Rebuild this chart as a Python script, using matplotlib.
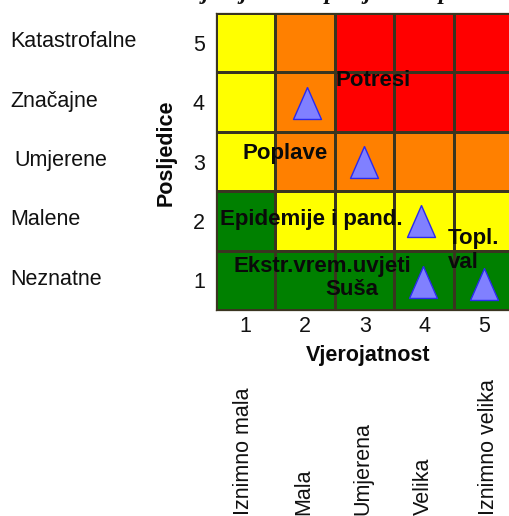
import numpy as np
import matplotlib.pyplot as plt
from matplotlib.colors import ListedColormap
import matplotlib.transforms as mtransforms

plt.rcParams['font.family'] = ['Liberation Sans', 'DejaVu Sans']

# --- data ---
likelihood = [1, 2, 3, 4, 5]
consequence = [1, 2, 3, 4, 5]
likelihood_names = ['Iznimno mala', 'Mala', 'Umjerena', 'Velika', 'Iznimno velika']
consequence_names = ['Neznatne', 'Malene', 'Umjerene', 'Značajne', 'Katastrofalne']

# risk zone per cell, rows = consequence 1..5, cols = likelihood 1..5
# 0 green, 1 yellow, 2 orange, 3 red
zone_c1 = [0, 0, 0, 0, 0]
zone_c2 = [0, 1, 1, 1, 1]
zone_c3 = [1, 2, 2, 2, 2]
zone_c4 = [1, 2, 3, 3, 3]
zone_c5 = [1, 2, 3, 3, 3]
zone_colors = ['#008000', '#FFFF00', '#FF8000', '#FF0000']

# hazard markers (likelihood, consequence)
hazard_x = [2.03, 2.99, 3.95, 3.98, 5.0]
hazard_y = [3.98, 2.99, 2.0, 0.97, 0.94]

# hazard labels
hazard_labels = ['Potresi', 'Poplave', 'Epidemije i pand.', 'Ekstr.vrem.uvjeti', 'Suša', 'Topl.\nval']
label_x = [3.14, 1.66, 2.11, 2.28, 2.79, 4.40]
label_y = [4.37, 3.14, 2.03, 1.24, 0.84, 1.50]
label_ha = ['center', 'center', 'center', 'center', 'center', 'left']

W, H = 510, 516
fig = plt.figure(figsize=(W / 100, H / 100), dpi=100)


def fx(px):
    return px / W


def fy(py):
    return 1 - py / H


ax = fig.add_axes([fx(216), fy(310), 297.5 / W, 297 / H])

Z = np.array([zone_c1, zone_c2, zone_c3, zone_c4, zone_c5])
edges = np.arange(0.5, 6.0, 1.0)
ax.pcolormesh(edges, edges, Z, cmap=ListedColormap(zone_colors), vmin=-0.5, vmax=3.5,
              edgecolors='#3a3520', linewidth=0.9)
ax.set_xlim(0.5, 5.5)
ax.set_ylim(0.5, 5.5)
ax.set_xticks(likelihood)
ax.set_yticks(consequence)
ax.tick_params(length=0, labelsize=15.5, colors='#111111')
ax.tick_params(axis='x', pad=4)
ax.tick_params(axis='y', pad=8)
for s in ax.spines.values():
    s.set_color('#3a3520')
    s.set_linewidth(0.9)

# slightly narrow triangle, like the original markers
tri = [(0, 1), (-0.875, -1), (0.875, -1), (0, 1)]
ax.plot(hazard_x, hazard_y, linestyle='none', marker=tri, ms=23,
        mfc='#8080FF', mec='#2a2aee', mew=1.0)

for t, x, y, ha in zip(hazard_labels, label_x, label_y, label_ha):
    ax.text(x, y, t, ha=ha, va='center', fontsize=16, fontweight='bold',
            color='#0a0a0a', linespacing=1.2)

# axis titles
fig.text(fx(368), fy(355), 'Vjerojatnost', ha='center', va='center',
         fontsize=15.5, fontweight='bold', color='#0a0a0a')
fig.text(fx(166), fy(153), 'Posljedice', rotation=90, ha='center', va='center',
         fontsize=15.5, fontweight='bold', color='#0a0a0a')

# descriptive names for consequence rows
trans = mtransforms.blended_transform_factory(fig.transFigure, ax.transData)
for c, name in zip(consequence, consequence_names):
    xoff = 14 if name == 'Umjerene' else 10
    fig.text(fx(xoff), c + 0.06, name, transform=trans, ha='left', va='center_baseline',
             fontsize=15.5, color='#111111')

# descriptive names for likelihood columns
name_px = [244, 304, 363, 423, 489]
for px, name in zip(name_px, likelihood_names):
    fig.text(fx(px), fy(515), name, rotation=90, ha='center', va='bottom',
             fontsize=15.5, color='#111111')

# title (mostly cut off by the top edge in the original)
fig.text(fx(280), fy(-1), 'Matrica rizika: vjerojatnost i posljedice opasnosti',
         ha='center', va='baseline', fontsize=17, fontweight='bold',
         fontstyle='italic', family='Liberation Serif', color='#111111')

fig.savefig('out.png', dpi=100)
